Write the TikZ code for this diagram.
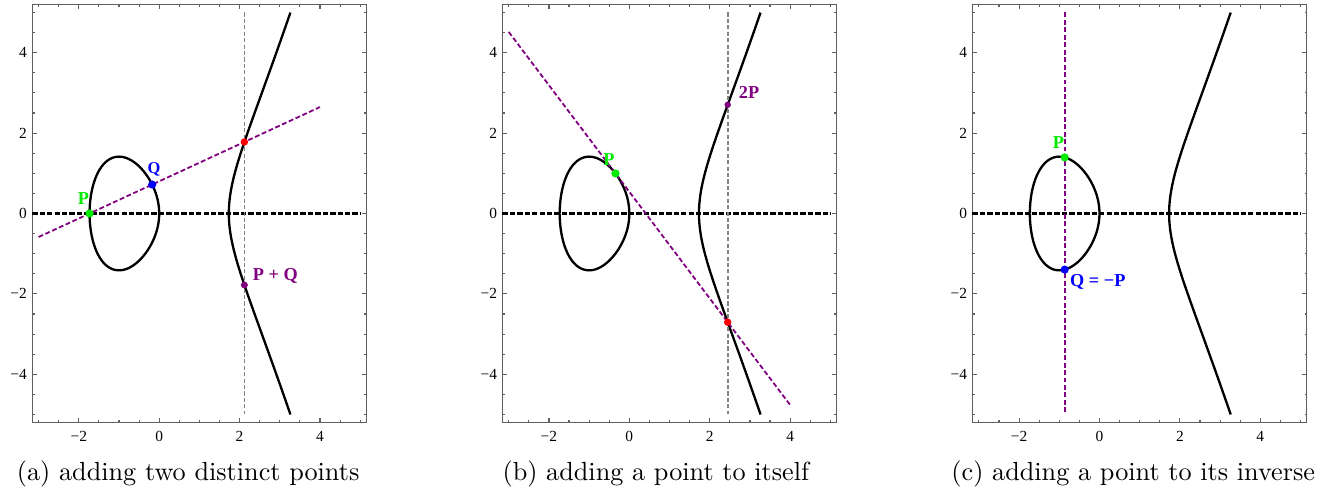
\documentclass[tikz,border=0pt]{standalone}
\usepackage{fontspec}
\usepackage{tikz}
\usetikzlibrary{positioning,calc}
\newfontfamily\mmafont{Liberation Serif}
\definecolor{mpurple}{RGB}{128,0,128}
\definecolor{mgreen}{RGB}{0,235,0}
\definecolor{mblue}{RGB}{0,0,255}
\definecolor{mred}{RGB}{255,0,0}
\definecolor{frmgray}{RGB}{95,95,95}
\definecolor{vgray}{RGB}{130,130,130}
\tikzset{
  frm/.style={draw=frmgray,line width=0.45pt},
  tlab/.style={inner sep=0pt,font=\mmafont\fontsize{6}{7}\selectfont},
  curve/.style={line width=0.9pt,black},
  axisline/.style={line width=0.85pt,black,dash pattern=on 2.1pt off 0.8pt},
  vline/.style={line width=0.65pt,vgray,dash pattern=on 1.6pt off 0.9pt},
  secant/.style={line width=0.7pt,mpurple,dash pattern=on 1.9pt off 1pt},
  dot/.style={circle,fill=#1,inner sep=0pt,minimum size=3.2pt},
  lbl/.style={inner sep=0pt,font=\mmafont\bfseries\fontsize{7.1}{8}\selectfont},
  capt/.style={inner sep=0pt,anchor=base,font=\fontsize{10.2}{12}\selectfont},
}
% frame with ticks on all four sides
\newcommand{\plotframe}[1]{%
  \draw[frm] (-3.16,-5.2) rectangle (5.16,5.2);
  \foreach \t in {-3,-2.5,...,5}{
    \draw[frm] (\t,-5.2) -- ++(0,0.055) (\t,5.2) -- ++(0,-0.055);}
  \foreach \t in {-5,-4.5,...,5}{
    \draw[frm] (-3.16,\t) -- ++(0.06,0) (5.16,\t) -- ++(-0.06,0);}
  \foreach \t/\txt [count=\i] in {-2/{−2},0/0,2/2,4/4}{
    \draw[frm] (\t,-5.2) -- ++(0,0.11) (\t,5.2) -- ++(0,-0.11);
    \node[tlab,anchor=base] (#1x\i) at (\t,-5.68) {\txt};}
  \foreach \t/\txt [count=\i] in {-4/{−4},-2/{−2},0/0,2/2,4/4}{
    \draw[frm] (-3.16,\t) -- ++(0.11,0) (5.16,\t) -- ++(-0.11,0);
    \node[tlab,anchor=east] (#1y\i) at (-3.28,\t) {\txt};}
}
% y^2 = x^3 - 3x : the egg and the right branch
\newcommand{\ellcurve}{%
  \draw[curve] plot[smooth,domain=0:180,samples=70,variable=\u] ({lx(\u)},{ly(\u)})
    -- plot[smooth,domain=180:360,samples=70,variable=\u] ({lx(\u)},{-ly(\u)});
  \draw[curve] plot[smooth,domain=-1.2478:1.2478,samples=70,variable=\v]
    ({sqrt(3)*cosh(\v)},{sinh(\v)*sqrt(3*sqrt(3)*cosh(\v))});
}

\begin{document}
\begin{tikzpicture}[x=0.55cm,y=0.55cm,
  declare function={lx(\u)=-sqrt(3)*(1+cos(\u))/2;
                    ly(\u)=sqrt(abs(lx(\u)*(lx(\u)*lx(\u)-3)));}]
\useasboundingbox (-3.960,-6.878) rectangle (29.00,5.311);

% ---- (a) adding two distinct points ----
\begin{scope}
  \plotframe{a}
  \ellcurve
  \coordinate (pa) at (-1.732,0);
  \coordinate (qa) at (-0.1745,0.7196);
  \coordinate (ra) at (2.1195,1.779);
  \coordinate (sa) at (2.1195,-1.779);
  \draw[axisline] (-3.16,0) -- (5,0);
  \draw[vline] (ra |- 0,5) -- (ra |- 0,-5);
  \draw[secant] ($(pa)!-0.814!(qa)$) -- ($(pa)!3.680!(qa)$);
  \node[dot=mgreen] (Pa) at (pa) {};
  \node[dot=mblue] (Qa) at (qa) {};
  \node[dot=mred,minimum size=2.9pt] (Ra) at (ra) {};
  \node[dot=mpurple,minimum size=2.7pt] (Sa) at (sa) {};
  \node[lbl,mgreen,above=0.5mm of Pa,xshift=-0.85mm] (Pal) {P};
  \node[lbl,mblue,font=\mmafont\bfseries\fontsize{6.4}{7}\selectfont,
        above=0.5mm of Qa,xshift=0.25mm] (Qal) {Q};
  \node[lbl,mpurple,right=0.55mm of Sa,yshift=1.2mm] (Sal) {P + Q};
  \node[capt] (capa) at (0.72,-6.63) {(a) adding two distinct points};
\end{scope}

% ---- (b) adding a point to itself ----
\begin{scope}[shift={(11.695,0)}]
  \plotframe{b}
  \ellcurve
  \coordinate (pb) at (-0.345,0.997);
  \coordinate (rb) at (2.447,-2.704);
  \coordinate (sb) at (2.447,2.704);
  \draw[axisline] (-3.16,0) -- (5,0);
  \draw[vline] (rb |- 0,5) -- (rb |- 0,-5);
  \draw[secant] ($(pb)!-0.951!(rb)$) -- ($(pb)!1.556!(rb)$);
  \node[dot=mgreen] (Pb) at (pb) {};
  \node[dot=mred,minimum size=2.9pt] (Rb) at (rb) {};
  \node[dot=mpurple,minimum size=2.5pt] (Sb) at (sb) {};
  \node[lbl,mgreen,above=0.38mm of Pb,xshift=-0.9mm] (Pbl) {P};
  \node[lbl,mpurple,right=0.95mm of Sb,yshift=1.65mm] (Sbl) {2P};
  \node[capt] (capb) at (0.66,-6.63) {(b) adding a point to itself};
\end{scope}

% ---- (c) adding a point to its inverse ----
\begin{scope}[shift={(23.39,0)}]
  \plotframe{c}
  \ellcurve
  \coordinate (pc) at (-0.866,1.396);
  \coordinate (qc) at (-0.866,-1.396);
  \draw[axisline] (-3.16,0) -- (5,0);
  \draw[secant] (pc |- 0,5) -- (pc |- 0,-5);
  \node[dot=mgreen] (Pc) at (pc) {};
  \node[dot=mblue] (Qc) at (qc) {};
  \node[lbl,mgreen,above=0.5mm of Pc,xshift=-0.85mm] (Pcl) {P};
  \node[lbl,mblue,right=0.05mm of Qc,yshift=-1.73mm] (Qcl) {Q = −P};
  \node[capt] (capc) at (0.84,-6.63) {(c) adding a point to its inverse};
\end{scope}
\end{tikzpicture}
\end{document}
